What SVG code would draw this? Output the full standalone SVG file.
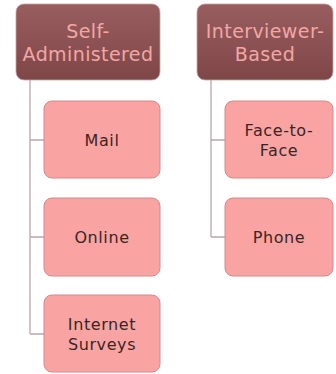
<svg xmlns="http://www.w3.org/2000/svg" width="336" height="374" viewBox="0 0 336 374">
<style>
.hdr{stroke:#c9a3a3;stroke-width:0.8;fill:url(#hg)}
.hdrt{font-family:"DejaVu Sans",sans-serif;font-size:19px;letter-spacing:0.4px;fill:#f2a7a5;text-anchor:middle}
.ch{fill:#f9a4a3;stroke:#d28a8b;stroke-width:1}
.cht{font-family:"DejaVu Sans",sans-serif;font-size:16px;letter-spacing:0.6px;fill:#3b2424;text-anchor:middle}
.con{stroke:#b9a7aa;stroke-width:1.3;fill:none}
</style>
<defs>
<linearGradient id="hg" x1="0" y1="0" x2="0" y2="1">
<stop offset="0" stop-color="#985d5f"/>
<stop offset="1" stop-color="#7f4648"/>
</linearGradient>
</defs>
<rect width="336" height="374" fill="#ffffff"/>
<g id="connectors">
<path class="con" d="M30,80 V334 M30,140 H44 M30,237 H44 M30,334 H44"/>
<path class="con" d="M211,80 V237 M211,140 H225 M211,237 H225"/>
</g>
<g id="self-administered">
<rect class="hdr" x="16" y="4" width="144" height="76" rx="8"/>
<text class="hdrt" x="88" y="38">Self-</text>
<text class="hdrt" x="88" y="61">Administered</text>
</g>
<g id="interviewer-based">
<rect class="hdr" x="197" y="4" width="136" height="76" rx="8"/>
<text class="hdrt" x="265" y="38">Interviewer-</text>
<text class="hdrt" x="265" y="61">Based</text>
</g>
<g id="mail">
<rect class="ch" x="44" y="101" width="116" height="77" rx="8"/>
<text class="cht" x="102" y="146">Mail</text>
</g>
<g id="online">
<rect class="ch" x="44" y="198" width="116" height="78" rx="8"/>
<text class="cht" x="102" y="243">Online</text>
</g>
<g id="internet-surveys">
<rect class="ch" x="44" y="295" width="116" height="77" rx="8"/>
<text class="cht" x="102" y="330">Internet</text>
<text class="cht" x="102" y="350">Surveys</text>
</g>
<g id="face-to-face">
<rect class="ch" x="225" y="101" width="108" height="77" rx="8"/>
<text class="cht" x="279" y="136">Face-to-</text>
<text class="cht" x="279" y="156">Face</text>
</g>
<g id="phone">
<rect class="ch" x="225" y="198" width="108" height="78" rx="8"/>
<text class="cht" x="279" y="243">Phone</text>
</g>
</svg>
